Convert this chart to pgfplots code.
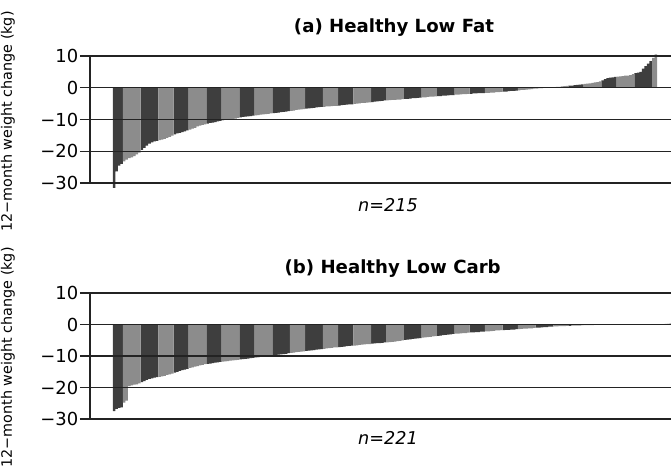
\documentclass[border=0pt]{standalone}
\usepackage{pgfplots}
\pgfplotsset{compat=1.18}
\usepackage{pgfplotstable}
\usepackage{fontspec}
\setmainfont{DejaVu Sans}
\definecolor{bardark}{RGB}{62,62,62}
\definecolor{barlight}{RGB}{140,140,140}
\definecolor{gridc}{RGB}{35,35,35}

% (a) Healthy Low Fat, n=215, sorted 12-month weight change (kg)
\pgfplotstableread[row sep=\\]{y\\
-31.5\\ -26.3\\ -24.5\\ -24.0\\ -23.2\\ -22.6\\ -22.2\\ -21.9\\ -21.5\\ -21.0\\
-20.4\\ -19.6\\ -18.9\\ -18.2\\ -17.6\\ -17.2\\ -16.9\\ -16.7\\ -16.5\\ -16.3\\
-16.1\\ -15.8\\ -15.5\\ -15.1\\ -14.7\\ -14.4\\ -14.2\\ -14.0\\ -13.7\\ -13.4\\
-13.2\\ -12.9\\ -12.6\\ -12.2\\ -11.9\\ -11.7\\ -11.5\\ -11.3\\ -11.1\\ -11.0\\
-10.8\\ -10.6\\ -10.4\\ -10.3\\ -10.1\\ -10.0\\ -9.9\\ -9.8\\ -9.7\\ -9.5\\
-9.3\\ -9.2\\ -9.1\\ -9.0\\ -8.9\\ -8.8\\ -8.7\\ -8.6\\ -8.5\\ -8.4\\
-8.3\\ -8.2\\ -8.1\\ -8.0\\ -7.9\\ -7.8\\ -7.7\\ -7.6\\ -7.5\\ -7.4\\
-7.3\\ -7.2\\ -7.0\\ -6.9\\ -6.8\\ -6.7\\ -6.6\\ -6.5\\ -6.4\\ -6.3\\
-6.2\\ -6.1\\ -6.0\\ -6.0\\ -5.9\\ -5.9\\ -5.8\\ -5.7\\ -5.7\\ -5.6\\
-5.5\\ -5.4\\ -5.3\\ -5.2\\ -5.2\\ -5.1\\ -5.0\\ -4.9\\ -4.8\\ -4.8\\
-4.7\\ -4.6\\ -4.5\\ -4.4\\ -4.3\\ -4.2\\ -4.1\\ -4.0\\ -4.0\\ -3.9\\
-3.8\\ -3.8\\ -3.7\\ -3.7\\ -3.6\\ -3.5\\ -3.5\\ -3.4\\ -3.3\\ -3.3\\
-3.2\\ -3.1\\ -3.0\\ -3.0\\ -2.9\\ -2.8\\ -2.8\\ -2.7\\ -2.6\\ -2.6\\
-2.5\\ -2.5\\ -2.4\\ -2.3\\ -2.3\\ -2.2\\ -2.2\\ -2.1\\ -2.0\\ -2.0\\
-1.9\\ -1.9\\ -1.8\\ -1.8\\ -1.7\\ -1.7\\ -1.7\\ -1.6\\ -1.6\\ -1.5\\
-1.5\\ -1.4\\ -1.4\\ -1.3\\ -1.2\\ -1.2\\ -1.1\\ -1.0\\ -1.0\\ -0.9\\
-0.8\\ -0.7\\ -0.7\\ -0.6\\ -0.5\\ -0.4\\ -0.3\\ -0.2\\ -0.1\\ -0.1\\
0.0\\ 0.0\\ 0.1\\ 0.1\\ 0.2\\ 0.3\\ 0.3\\ 0.4\\ 0.5\\ 0.6\\
0.7\\ 0.7\\ 0.8\\ 0.9\\ 1.0\\ 1.1\\ 1.2\\ 1.3\\ 1.4\\ 1.5\\
1.7\\ 1.8\\ 2.0\\ 2.3\\ 2.7\\ 3.0\\ 3.2\\ 3.3\\ 3.4\\ 3.5\\
3.6\\ 3.7\\ 3.8\\ 3.8\\ 4.0\\ 4.3\\ 4.6\\ 4.8\\ 5.0\\ 6.0\\
6.8\\ 7.6\\ 8.4\\ 9.4\\ 10.5\\
}\lowfat

% (b) Healthy Low Carb, n=221
\pgfplotstableread[row sep=\\]{y\\
-27.5\\ -26.8\\ -26.5\\ -26.3\\ -24.8\\ -24.2\\ -19.6\\ -19.3\\ -19.1\\ -19.0\\
-18.7\\ -18.3\\ -18.0\\ -17.6\\ -17.3\\ -17.1\\ -16.9\\ -16.7\\ -16.6\\ -16.5\\
-16.3\\ -16.0\\ -15.8\\ -15.6\\ -15.3\\ -15.0\\ -14.7\\ -14.5\\ -14.3\\ -14.1\\
-13.8\\ -13.6\\ -13.4\\ -13.2\\ -13.0\\ -12.8\\ -12.6\\ -12.5\\ -12.4\\ -12.3\\
-12.1\\ -12.0\\ -11.9\\ -11.8\\ -11.7\\ -11.6\\ -11.5\\ -11.4\\ -11.3\\ -11.2\\
-11.1\\ -11.0\\ -10.9\\ -10.8\\ -10.7\\ -10.6\\ -10.5\\ -10.4\\ -10.3\\ -10.2\\
-10.1\\ -10.0\\ -9.9\\ -9.8\\ -9.7\\ -9.6\\ -9.5\\ -9.4\\ -9.3\\ -9.1\\
-9.0\\ -8.9\\ -8.8\\ -8.7\\ -8.6\\ -8.5\\ -8.4\\ -8.3\\ -8.2\\ -8.1\\
-8.0\\ -7.9\\ -7.8\\ -7.7\\ -7.6\\ -7.5\\ -7.4\\ -7.3\\ -7.3\\ -7.2\\
-7.1\\ -7.0\\ -6.9\\ -6.8\\ -6.7\\ -6.7\\ -6.6\\ -6.5\\ -6.4\\ -6.3\\
-6.2\\ -6.2\\ -6.1\\ -6.0\\ -5.9\\ -5.9\\ -5.8\\ -5.7\\ -5.7\\ -5.6\\
-5.5\\ -5.4\\ -5.3\\ -5.2\\ -5.0\\ -4.9\\ -4.8\\ -4.7\\ -4.6\\ -4.5\\
-4.4\\ -4.3\\ -4.2\\ -4.1\\ -4.0\\ -3.9\\ -3.8\\ -3.7\\ -3.6\\ -3.5\\
-3.4\\ -3.3\\ -3.2\\ -3.1\\ -3.0\\ -2.9\\ -2.9\\ -2.8\\ -2.7\\ -2.7\\
-2.6\\ -2.5\\ -2.5\\ -2.4\\ -2.4\\ -2.3\\ -2.3\\ -2.2\\ -2.2\\ -2.1\\
-2.0\\ -1.9\\ -1.9\\ -1.8\\ -1.8\\ -1.7\\ -1.7\\ -1.6\\ -1.6\\ -1.5\\
-1.5\\ -1.4\\ -1.3\\ -1.3\\ -1.2\\ -1.2\\ -1.1\\ -1.0\\ -1.0\\ -0.9\\
-0.8\\ -0.8\\ -0.7\\ -0.7\\ -0.6\\ -0.6\\ -0.5\\ -0.5\\ -0.5\\ -0.4\\
-0.4\\ -0.3\\ -0.3\\ -0.3\\ -0.3\\ -0.2\\ -0.2\\ -0.2\\ -0.2\\ -0.2\\
-0.1\\ -0.1\\ -0.1\\ -0.1\\ -0.1\\ -0.1\\ -0.1\\ -0.1\\ -0.1\\ -0.1\\
-0.1\\ -0.1\\ -0.1\\ -0.1\\ -0.1\\ -0.1\\ 0.0\\ 0.0\\ 0.0\\ 0.0\\
0.0\\ 0.0\\ 0.0\\ 0.0\\ 0.0\\ 0.0\\ 0.1\\ 0.1\\ 0.2\\ 0.2\\
0.3\\
}\lowcarb

\pgfplotsset{
  waterfall/.style={
    scale only axis, width=581bp,
    xmin=-9.5, xmax=220, ymin=-30, ymax=10,
    clip=false,
    hide x axis,
    axis y line*=left,
    ytick={-30,-20,-10,0,10},
    yticklabels={−30,−20,−10,0,10},
    ymajorgrids,
    grid style={gridc, line width=1.2bp},
    axis line style={gridc, line width=1.2bp},
    major tick style={gridc, line width=1.2bp},
    tick align=outside, major tick length=10bp,
    yticklabel style={font=\fontsize{18}{20}\selectfont, inner sep=1.5bp},
    axis on top,
  },
  wfbar/.style={ybar, bar width=1, bar shift=0pt, draw=none},
}

\begin{document}
\begin{tikzpicture}
% ---------- (a) ----------
\begin{axis}[waterfall, height=127bp, at={(90bp,-183bp)}, anchor=south west]
\addplot[wfbar, fill=bardark,
  restrict expr to domain={mod(floor((\coordindex+2.5)/6.5),2)}{0:0.5}]
  table[x expr=\coordindex, y=y] {\lowfat};
\addplot[wfbar, fill=barlight,
  restrict expr to domain={mod(floor((\coordindex+2.5)/6.5),2)}{0.5:1}]
  table[x expr=\coordindex, y=y] {\lowfat};
\end{axis}
% ---------- (b) ----------
\begin{axis}[waterfall, height=126bp, at={(90bp,-419bp)}, anchor=south west]
\addplot[wfbar, fill=bardark,
  restrict expr to domain={mod(floor((\coordindex+2.5)/6.5),2)}{0:0.5}]
  table[x expr=\coordindex, y=y] {\lowcarb};
\addplot[wfbar, fill=barlight,
  restrict expr to domain={mod(floor((\coordindex+2.5)/6.5),2)}{0.5:1}]
  table[x expr=\coordindex, y=y] {\lowcarb};
\end{axis}
% titles and annotations
\node[anchor=base, font=\bfseries\fontsize{18.2}{20}\selectfont] at (394bp,-32.3bp) {(a) Healthy Low Fat};
\node[anchor=base, font=\bfseries\fontsize{18.2}{20}\selectfont] at (392.7bp,-273.5bp) {(b) Healthy Low Carb};
\node[anchor=base, font=\itshape\fontsize{17.7}{20}\selectfont] at (388bp,-211.7bp) {n=215};
\node[anchor=base, font=\itshape\fontsize{17.7}{20}\selectfont] at (388bp,-444bp) {n=221};
\node[rotate=90, font=\fontsize{14.4}{16}\selectfont] at (8bp,-121.5bp) {12−month weight change (kg)};
\node[rotate=90, font=\fontsize{14.4}{16}\selectfont] at (8bp,-357.5bp) {12−month weight change (kg)};
\pgfresetboundingbox
\path[use as bounding box] (0,0) rectangle (671bp,-470bp);
\end{tikzpicture}
\end{document}
